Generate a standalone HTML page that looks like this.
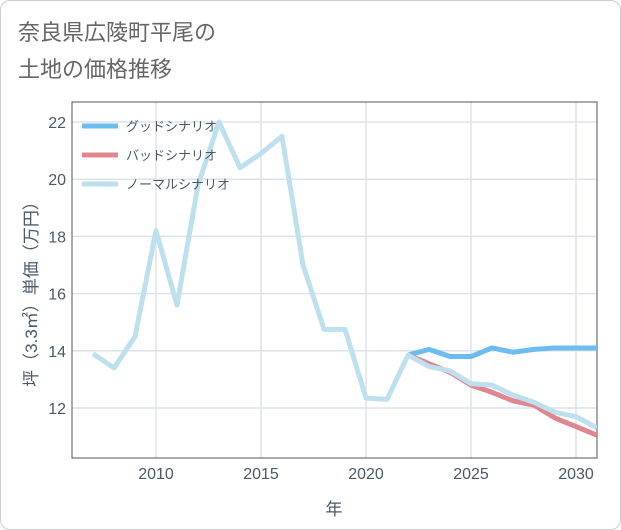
<!DOCTYPE html>
<html><head><meta charset="utf-8">
<style>
body{margin:0;background:#fff;font-family:"Liberation Sans","Noto Sans CJK JP",sans-serif;}
#card{position:absolute;left:0;top:0;width:619px;height:528px;border:1px solid #ccc;border-radius:10px;background:#fff;}
#title{position:absolute;left:18px;top:14px;font-size:22px;line-height:37px;color:#666;}
svg{position:absolute;left:0;top:0;}
</style></head><body>
<div id="card"></div>
<div id="title">奈良県広陵町平尾の<br>土地の価格推移</div>
<svg id="chart" width="621" height="530"></svg>
<script>
const years=[2007,2008,2009,2010,2011,2012,2013,2014,2015,2016,2017,2018,2019,2020,2021,2022,2023,2024,2025,2026,2027,2028,2029,2030,2031];
const normal=[13.9,13.4,14.5,18.2,15.6,19.8,22.0,20.4,20.9,21.5,17.0,14.75,14.75,12.35,12.3,13.85,13.45,13.3,12.85,12.8,12.45,12.2,11.85,11.7,11.3];
const goodYears=[2022,2023,2024,2025,2026,2027,2028,2029,2030,2031];
const good=[13.85,14.05,13.8,13.8,14.1,13.95,14.05,14.1,14.1,14.1];
const bad=[13.85,13.55,13.25,12.8,12.55,12.25,12.1,11.65,11.35,11.05];
const xTicks=[2010,2015,2020,2025,2030];
const yTicks=[12,14,16,18,20,22];
const L=72,R=597,T=102,B=458;
const x=v=>156+(v-2010)*21;
const y=v=>408-(v-12)*28.6;
const svg=document.getElementById('chart');
const NS='http://www.w3.org/2000/svg';
function mk(t,a,p){const e=document.createElementNS(NS,t);for(const k in a)e.setAttribute(k,a[k]);(p||svg).appendChild(e);return e;}
xTicks.forEach(t=>{
 const g=mk('line',{x1:x(t),x2:x(t),y1:T,y2:B,stroke:'#dde3ea','stroke-width':1.5});
 
 
 const tx=mk('text',{x:x(t),y:B+21,'text-anchor':'middle','font-size':16,fill:'#4a5a6a'});tx.textContent=t;
 
 
});
yTicks.forEach(t=>{
 const g=mk('line',{x1:L,x2:R,y1:y(t),y2:y(t),stroke:'#dde3ea','stroke-width':1.5});
 
 
 const tx=mk('text',{x:L-6,y:y(t)+6,'text-anchor':'end','font-size':16,fill:'#4a5a6a'});tx.textContent=t;
 
 
});
const frame=mk('rect',{x:L,y:T,width:R-L,height:B-T,fill:'none',stroke:'#555','stroke-width':1});


const xt=mk('text',{x:334,y:515,'text-anchor':'middle','font-size':17,fill:'#4a5a6a'});xt.textContent='年';


const yt=mk('text',{x:0,y:0,'text-anchor':'middle','font-size':17,fill:'#4a5a6a',transform:'translate(37,290) rotate(-90)'});yt.textContent='坪（3.3㎡）単価（万円）';


const clip=mk('clipPath',{id:'pc'});mk('rect',{x:L,y:T,width:R-L,height:B-T},clip);
function line(xs,vs,color,name){
 const d=xs.map((v,i)=>(i?'L':'M')+x(v)+','+y(vs[i])).join('');
 const p=mk('path',{d:d,fill:'none',stroke:color,'stroke-width':5,'stroke-linejoin':'round','clip-path':'url(#pc)'});
 
 
}
line(goodYears,good,'#6bbcf0','good-scenario-line');
line(goodYears,bad,'#e0868e','bad-scenario-line');
line(years,normal,'#bde0ef','normal-scenario-line');
const leg=[['グッドシナリオ','#6bbcf0'],['バッドシナリオ','#e0868e'],['ノーマルシナリオ','#bde0ef']];
leg.forEach((l,i)=>{
 const yy=126+i*29;
 const s=mk('line',{x1:82,x2:118,y1:yy,y2:yy,stroke:l[1],'stroke-width':5});
 
 
 const t=mk('text',{x:126,y:yy+5,'font-size':13,fill:'#4a5a6a'});t.textContent=l[0];
 
 
});
</script>
</body></html>
